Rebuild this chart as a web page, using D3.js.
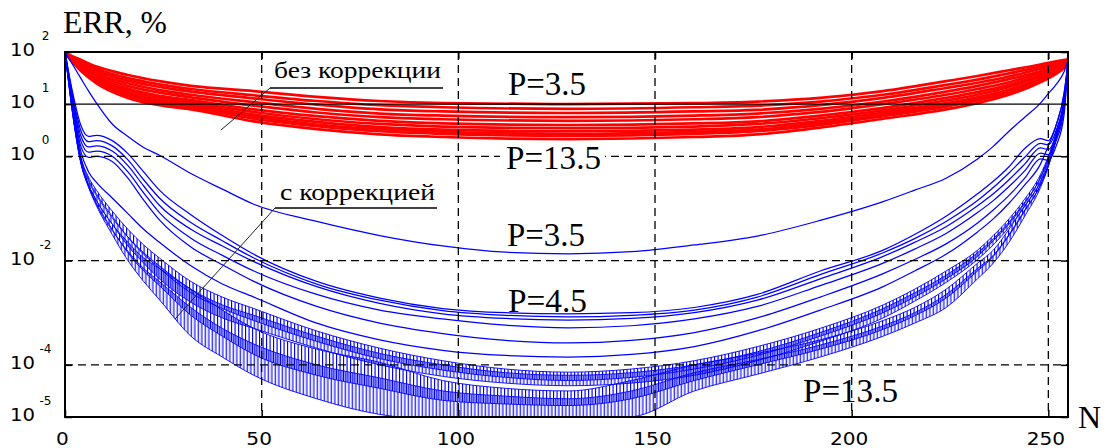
<!DOCTYPE html>
<html><head><meta charset="utf-8">
<script src="https://cdnjs.cloudflare.com/ajax/libs/d3/7.8.5/d3.min.js"></script>
<style>html,body{margin:0;padding:0;background:#fff;overflow:hidden}svg{display:block}</style>
</head><body>
<svg id="chart" width="1106" height="448"></svg>
<script>
// ===== DATA (ERR in %, stored as log10(ERR)) =====
const xTickValues = [0, 50, 100, 150, 200, 250];
const yTickExponents = [2, 1, 0, -2, -4, -5];
const yDashedGrid = [0, -2, -4];
const ySolidGrid = [1];
const xDashedGrid = [50, 100, 150, 200, 250];
const xDomain = [0, 255];
const yDomain = [-5, 2];

// "без коррекции" (red), P = 3.5 ... 13.5
const nRed = [0, 4, 8, 16, 24, 32, 48, 64, 80, 96, 128, 160, 176, 192, 208, 224, 232, 240, 248, 252, 255];
const red_P3_5  = [1.98, 1.85, 1.72, 1.56, 1.44, 1.35, 1.25, 1.14, 1.06, 1.02, 1.00, 1.02, 1.05, 1.12, 1.25, 1.44, 1.54, 1.65, 1.76, 1.82, 1.86];
const red_P4_5  = [1.98, 1.82, 1.68, 1.50, 1.38, 1.29, 1.17, 1.06, 0.98, 0.94, 0.91, 0.94, 0.97, 1.05, 1.18, 1.37, 1.47, 1.59, 1.72, 1.79, 1.85];
const red_P5_5  = [1.98, 1.80, 1.64, 1.45, 1.33, 1.24, 1.11, 0.99, 0.90, 0.86, 0.83, 0.86, 0.89, 0.98, 1.12, 1.31, 1.41, 1.53, 1.68, 1.76, 1.83];
const red_P6_5  = [1.98, 1.77, 1.60, 1.40, 1.27, 1.18, 1.04, 0.91, 0.82, 0.78, 0.75, 0.78, 0.82, 0.91, 1.05, 1.24, 1.35, 1.48, 1.63, 1.73, 1.82];
const red_P7_5  = [1.98, 1.75, 1.57, 1.35, 1.22, 1.13, 0.97, 0.84, 0.75, 0.71, 0.68, 0.71, 0.75, 0.85, 1.00, 1.18, 1.29, 1.42, 1.60, 1.70, 1.81];
const red_P8_5  = [1.98, 1.72, 1.53, 1.30, 1.16, 1.08, 0.90, 0.77, 0.68, 0.63, 0.60, 0.63, 0.67, 0.78, 0.93, 1.12, 1.23, 1.37, 1.56, 1.68, 1.79];
const red_P9_5  = [1.98, 1.71, 1.50, 1.26, 1.12, 1.04, 0.85, 0.71, 0.62, 0.57, 0.54, 0.57, 0.62, 0.73, 0.88, 1.07, 1.18, 1.33, 1.53, 1.65, 1.78];
const red_P10_5 = [1.98, 1.69, 1.47, 1.22, 1.08, 1.00, 0.80, 0.66, 0.56, 0.51, 0.48, 0.51, 0.56, 0.68, 0.84, 1.02, 1.13, 1.28, 1.49, 1.63, 1.77];
const red_P11_5 = [1.98, 1.67, 1.45, 1.19, 1.05, 0.97, 0.76, 0.61, 0.52, 0.47, 0.43, 0.47, 0.51, 0.64, 0.80, 0.98, 1.10, 1.25, 1.47, 1.62, 1.77];
const red_P12_5 = [1.98, 1.66, 1.43, 1.16, 1.02, 0.94, 0.72, 0.58, 0.48, 0.43, 0.39, 0.43, 0.48, 0.60, 0.77, 0.95, 1.07, 1.22, 1.45, 1.60, 1.76];
const red_P13_5 = [1.98, 1.64, 1.40, 1.12, 0.98, 0.90, 0.67, 0.52, 0.42, 0.37, 0.33, 0.37, 0.42, 0.55, 0.72, 0.90, 1.02, 1.18, 1.42, 1.58, 1.75];

// "с коррекцией" (blue), P = 3.5 ... 13.5
const nBlue = [0, 2, 4, 6, 8, 12, 16, 20, 24, 32, 40, 48, 64, 80, 96, 112, 128, 144, 160, 176, 192, 208, 216, 224, 232, 236, 240, 244, 248, 250, 252, 254, 255];
const blue_P3_5 = [2.0, 1.75, 1.5, 1.25, 1.02, 0.62, 0.38, 0.17, 0.02, -0.33, -0.63, -0.92, -1.25, -1.52, -1.72, -1.84, -1.87, -1.83, -1.70, -1.53, -1.23, -0.87, -0.65, -0.42, -0.05, 0.19, 0.48, 0.75, 1.02, 1.2, 1.38, 1.62, 1.85];
const blue_P4_5 = [2.0, 1.2, 0.6, 0.38, 0.4, 0.3, 0.05, -0.3, -0.65, -1.12, -1.52, -1.88, -2.4, -2.72, -2.92, -3.0, -3.02, -3.0, -2.9, -2.65, -2.2, -1.8, -1.5, -1.15, -0.72, -0.48, -0.2, 0.15, 0.34, 0.3, 0.6, 1.2, 1.8];
const blue_P5_5 = [2.0, 1.15, 0.5, 0.28, 0.3, 0.2, -0.07, -0.45, -0.8, -1.27, -1.62, -1.95, -2.45, -2.76, -2.96, -3.05, -3.08, -3.05, -2.95, -2.7, -2.27, -1.85, -1.58, -1.25, -0.85, -0.6, -0.32, -0.02, 0.25, 0.22, 0.5, 1.1, 1.8];
const blue_P6_5 = [2.0, 1.1, 0.4, 0.18, 0.2, 0.1, -0.18, -0.57, -0.94, -1.4, -1.72, -2.02, -2.5, -2.82, -3.02, -3.11, -3.14, -3.11, -3.0, -2.76, -2.35, -1.92, -1.65, -1.35, -0.95, -0.72, -0.45, -0.15, 0.16, 0.13, 0.4, 1.0, 1.8];
const blue_P7_5 = [2.0, 1.05, 0.3, 0.08, 0.1, 0.0, -0.3, -0.7, -1.08, -1.57, -1.9, -2.2, -2.65, -2.95, -3.12, -3.24, -3.29, -3.25, -3.12, -2.88, -2.48, -2.05, -1.78, -1.48, -1.08, -0.85, -0.58, -0.28, 0.06, 0.03, 0.3, 0.9, 1.8];
const blue_P8_5 = [2.0, 1.0, 0.2, -0.02, 0.0, -0.1, -0.42, -0.84, -1.22, -1.74, -2.08, -2.4, -2.88, -3.2, -3.4, -3.53, -3.58, -3.53, -3.38, -3.1, -2.7, -2.25, -1.98, -1.68, -1.28, -1.03, -0.75, -0.42, -0.05, -0.08, 0.2, 0.8, 1.8];
const blue_P9_5 = [2.0, 0.95, 0.1, -0.3, -0.5, -0.8, -1.1, -1.4, -1.65, -2.1, -2.45, -2.7, -3.2, -3.52, -3.72, -3.82, -3.85, -3.8, -3.65, -3.35, -2.95, -2.5, -2.2, -1.88, -1.45, -1.2, -0.9, -0.55, -0.15, 0.2, 0.6, 1.2, 1.8];
// oscillating curves: upper and lower envelope of the oscillation
const blue_P10_5_hi = [2.0, 0.9, 0.0, -0.4, -0.65, -1.05, -1.4, -1.7, -1.95, -2.4, -2.7, -2.92, -3.35, -3.68, -3.92, -4.08, -4.14, -4.08, -3.92, -3.65, -3.3, -2.85, -2.55, -2.2, -1.8, -1.52, -1.2, -0.82, -0.35, 0.0, 0.45, 1.1, 1.8];
const blue_P10_5_lo = [2.0, 0.9, 0.0, -0.45, -0.72, -1.15, -1.55, -1.88, -2.15, -2.62, -2.92, -3.15, -3.55, -3.88, -4.1, -4.24, -4.3, -4.24, -4.08, -3.82, -3.45, -3.0, -2.7, -2.35, -1.92, -1.62, -1.3, -0.9, -0.4, -0.03, 0.45, 1.1, 1.8];
const blue_P11_5_hi = [2.0, 0.85, -0.05, -0.48, -0.75, -1.18, -1.55, -1.85, -2.1, -2.55, -2.85, -3.05, -3.45, -3.78, -4.0, -4.15, -4.2, -4.15, -4.0, -3.75, -3.38, -2.92, -2.62, -2.28, -1.85, -1.58, -1.26, -0.88, -0.42, -0.06, 0.4, 1.05, 1.8];
const blue_P11_5_lo = [2.0, 0.85, -0.08, -0.55, -0.85, -1.3, -1.72, -2.05, -2.35, -2.8, -3.1, -3.3, -3.68, -4.0, -4.22, -4.35, -4.4, -4.35, -4.2, -3.92, -3.55, -3.1, -2.78, -2.42, -1.98, -1.7, -1.36, -0.96, -0.48, -0.1, 0.4, 1.05, 1.8];
const blue_P12_5_hi = [2.0, 0.8, -0.1, -0.55, -0.85, -1.3, -1.65, -1.95, -2.15, -2.55, -2.95, -3.3, -3.7, -3.95, -4.3, -4.45, -4.5, -4.3, -4.0, -3.78, -3.52, -3.15, -2.9, -2.55, -2.05, -1.8, -1.4, -0.95, -0.5, -0.15, 0.35, 1.05, 1.8];
const blue_P12_5_lo = [2.0, 0.8, -0.1, -0.57, -0.9, -1.4, -1.85, -2.2, -2.48, -3.05, -3.45, -3.8, -4.2, -4.45, -4.68, -4.75, -4.78, -4.65, -4.3, -4.0, -3.7, -3.32, -3.06, -2.72, -2.2, -1.92, -1.52, -1.05, -0.55, -0.18, 0.35, 1.05, 1.8];
const blue_P13_5_hi = [2.0, 0.78, -0.12, -0.58, -0.92, -1.42, -1.82, -2.15, -2.4, -2.9, -3.3, -3.6, -4.0, -4.25, -4.5, -4.6, -4.65, -4.5, -4.15, -3.9, -3.62, -3.25, -3.0, -2.65, -2.15, -1.9, -1.5, -1.03, -0.55, -0.18, 0.33, 1.03, 1.8];
const blue_P13_5_lo = [2.0, 0.78, -0.12, -0.6, -0.95, -1.5, -2.0, -2.4, -2.75, -3.45, -3.85, -4.2, -4.65, -4.95, -5.05, -5.05, -5.05, -5.0, -4.5, -4.18, -3.85, -3.45, -3.2, -2.9, -2.35, -2.05, -1.65, -1.15, -0.6, -0.2, 0.33, 1.03, 1.8];

const redSeries = [red_P3_5, red_P4_5, red_P5_5, red_P6_5, red_P7_5, red_P8_5, red_P9_5, red_P10_5, red_P11_5, red_P12_5, red_P13_5];
const blueLineSeries = [blue_P3_5, blue_P4_5, blue_P5_5, blue_P6_5, blue_P7_5, blue_P8_5, blue_P9_5];
const blueBandSeries = [
  [blue_P10_5_hi, blue_P10_5_lo], [blue_P11_5_hi, blue_P11_5_lo],
  [blue_P12_5_hi, blue_P12_5_lo], [blue_P13_5_hi, blue_P13_5_lo]
];

// ===== DRAWING =====
const svg = d3.select("#chart");
const L = 65, R = 1068, T = 52, B = 417;
const x = d3.scaleLinear().domain(xDomain).range([L, R]);
const y = d3.scaleLinear().domain(yDomain).range([B, T]);

const defs = svg.append("defs");
defs.append("clipPath").attr("id", "plotClip")
  .append("rect").attr("x", L).attr("y", T).attr("width", R - L).attr("height", B - T);
["hatchA", "hatchB"].forEach((id, k) => {
  const p = defs.append("pattern").attr("id", id).attr("patternUnits", "userSpaceOnUse")
    .attr("x", k * 1.7).attr("y", 0).attr("width", 7).attr("height", 10);
  p.append("rect").attr("x", 0).attr("y", 0).attr("width", 1.15).attr("height", 10).attr("fill", "#0000ff");
  p.append("rect").attr("x", 3.5).attr("y", 0).attr("width", 1.15).attr("height", 10).attr("fill", "#0000ff");
});

const plot = svg.append("g").attr("clip-path", "url(#plotClip)");

const line = (ns) => d3.line().x((d, i) => x(ns[i])).y(d => y(d)).curve(d3.curveMonotoneX);

// red curves
plot.append("g").selectAll("path").data(redSeries).join("path")
  .attr("d", d => line(nRed)(d))
  .attr("fill", "none").attr("stroke", "#ff0000").attr("stroke-width", 2.7);

// blue oscillating bands
const area = d3.area().x(d => x(d[0])).y0(d => y(d[2])).y1(d => y(d[1])).curve(d3.curveMonotoneX);
blueBandSeries.forEach((s, k) => {
  const pts = nBlue.map((n, i) => [n, s[0][i], s[1][i]]);
  plot.append("path").attr("d", area(pts))
    .attr("fill", `url(#${k % 2 ? "hatchB" : "hatchA"})`).attr("stroke", "none");
  [s[0], s[1]].forEach(v => plot.append("path").attr("d", line(nBlue)(v))
    .attr("fill", "none").attr("stroke", "#0000ff").attr("stroke-width", 0.9));
});

// blue smooth curves
plot.append("g").selectAll("path").data(blueLineSeries).join("path")
  .attr("d", d => line(nBlue)(d))
  .attr("fill", "none").attr("stroke", "#0000ff").attr("stroke-width", 1.25);

// grid
const grid = svg.append("g").attr("stroke", "#000");
grid.selectAll("line.vx").data(xDashedGrid).join("line")
  .attr("x1", d => x(d)).attr("x2", d => x(d)).attr("y1", T).attr("y2", B)
  .attr("stroke-width", 1.3).attr("stroke-dasharray", "8,5");
grid.selectAll("line.hy").data(yDashedGrid).join("line")
  .attr("x1", L).attr("x2", R).attr("y1", d => y(d)).attr("y2", d => y(d))
  .attr("stroke-width", 1.3).attr("stroke-dasharray", "8,5");
grid.selectAll("line.sy").data(ySolidGrid).join("line")
  .attr("x1", L).attr("x2", R).attr("y1", d => y(d)).attr("y2", d => y(d))
  .attr("stroke-width", 1.4);

// axes (inward ticks on all four sides)
const gB = svg.append("g").attr("transform", `translate(0,${B})`)
  .call(d3.axisBottom(x).tickValues(xTickValues).tickSize(-7));
const gT = svg.append("g").attr("transform", `translate(0,${T})`)
  .call(d3.axisTop(x).tickValues(xTickValues).tickSize(-7).tickFormat(""));
const gL = svg.append("g").attr("transform", `translate(${L},0)`)
  .call(d3.axisLeft(y).tickValues(yTickExponents).tickSize(-7).tickFormat(""));
const gR = svg.append("g").attr("transform", `translate(${R},0)`)
  .call(d3.axisRight(y).tickValues(yTickExponents).tickSize(-7).tickFormat(""));
[gB, gT, gL, gR].forEach(g => { g.select(".domain").remove(); g.selectAll("line").attr("stroke", "#000").attr("stroke-width", 1.5); });

gB.selectAll("text")
  .attr("y", 28).attr("dy", 0).attr("x", -3)
  .attr("fill", "#000")
  .style("font-family", "'DejaVu Sans', sans-serif").style("font-size", "18px")
  .attr("textLength", d => String(d).length * 12.8).attr("lengthAdjust", "spacingAndGlyphs");

// y labels 10^k
const yl = svg.append("g").attr("fill", "#000").style("font-family", "'DejaVu Sans', sans-serif");
yl.selectAll("text.base").data(yTickExponents).join("text")
  .attr("x", 35).attr("y", d => y(d) + 4).attr("text-anchor", "end")
  .style("font-size", "17px").attr("textLength", 25).attr("lengthAdjust", "spacingAndGlyphs")
  .text("10");
yl.selectAll("text.exp").data(yTickExponents).join("text")
  .attr("x", 45.5).attr("y", d => y(d) - 12).attr("text-anchor", "middle")
  .style("font-size", "12px")
  .text(d => String(d));

// frame
svg.append("rect").attr("x", L).attr("y", T).attr("width", R - L).attr("height", B - T)
  .attr("fill", "none").attr("stroke", "#000").attr("stroke-width", 2);

// axis titles
const serif = "'Liberation Serif', 'Times New Roman', serif";
svg.append("text").attr("x", 63).attr("y", 33).style("font-family", serif).style("font-size", "31px")
  .attr("textLength", 104).attr("lengthAdjust", "spacingAndGlyphs").text("ERR, %");
svg.append("text").attr("x", 1078).attr("y", 428).style("font-family", serif).style("font-size", "32px").text("N");

// annotations
const ann = svg.append("g");
function callout(txt, tx, ty, tw, ux1, ux2, uy, lx, ly) {
  ann.append("text").attr("x", tx).attr("y", ty).style("font-family", serif).style("font-size", "23px")
    .attr("textLength", tw).attr("lengthAdjust", "spacingAndGlyphs").text(txt);
  ann.append("line").attr("x1", ux1).attr("x2", ux2).attr("y1", uy).attr("y2", uy).attr("stroke", "#000").attr("stroke-width", 1.3);
  ann.append("line").attr("x1", ux1).attr("y1", uy).attr("x2", lx).attr("y2", ly).attr("stroke", "#222").attr("stroke-width", 1);
}
callout("без коррекции", 274, 78, 167, 270, 443, 88, 221, 130);
callout("с коррекцией", 280, 200, 155, 275, 437, 208, 175, 319);

const pLabels = [
  { t: "P=3.5", x: 508, y: 95, w: 78, bg: false },
  { t: "P=13.5", x: 506, y: 169, w: 95, bg: true },
  { t: "P=3.5", x: 507, y: 246, w: 78, bg: false },
  { t: "P=4.5", x: 508, y: 312, w: 79, bg: false },
  { t: "P=13.5", x: 803, y: 402, w: 95, bg: false }
];
pLabels.forEach(p => {
  if (p.bg) svg.append("rect").attr("x", p.x - 6).attr("y", p.y - 24).attr("width", p.w + 10).attr("height", 28).attr("fill", "#fff");
  svg.append("text").attr("x", p.x).attr("y", p.y).style("font-family", serif).style("font-size", "33px")
    .attr("textLength", p.w).attr("lengthAdjust", "spacingAndGlyphs").text(p.t);
});
</script>
</body></html>
